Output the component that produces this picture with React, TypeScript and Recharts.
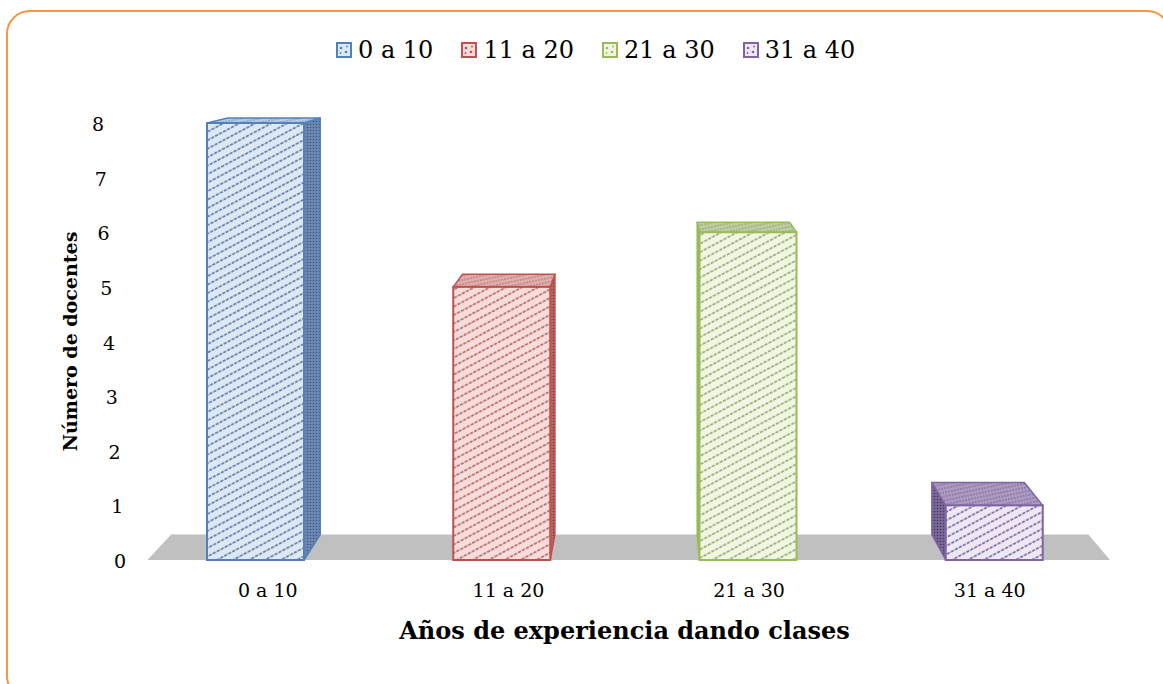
import React from "react";
import { BarChart, Bar, XAxis, YAxis, ReferenceArea } from "recharts";

// años de experiencia -> número de docentes
const rangos = ["0 a 10", "11 a 20", "21 a 30", "31 a 40"];
const docentes = [8, 5, 6, 1];
const yTicks = [0, 1, 2, 3, 4, 5, 6, 7, 8];

const data = rangos.map((rango, i) => ({ rango, docentes: docentes[i] }));

// Office-style palette: border, face, hatch line, side, side dots, top
const palette = [
  { border: "#4f81bd", face: "#dde8f5", line: "#6f87aa", side: "#6d89b2", dot: "#3a5680", top: "#b9cae0" },
  { border: "#c0504d", face: "#f8dcdb", line: "#b97775", side: "#b56d6a", dot: "#7a3331", top: "#dfb0ae" },
  { border: "#9bbb59", face: "#f1f6e2", line: "#9fb381", side: "#97ae68", dot: "#62773a", top: "#bfcda4" },
  { border: "#8064a2", face: "#eee8f6", line: "#8877a3", side: "#7a6899", dot: "#46355f", top: "#ac9cc3" },
];

const FONT = "'DejaVu Serif', 'Liberation Serif', serif";

// simple one-point perspective for the 3D look
const VP = { x: 650, y: 17 };
const DEPTH = 0.953;
const back = (px: number, py: number): [number, number] => [
  VP.x + (px - VP.x) * DEPTH,
  VP.y + (py - VP.y) * DEPTH,
];
const pts = (arr: [number, number][]) => arr.map((p) => p.join(",")).join(" ");

function Box3D(props: any) {
  const { x, y, width, height, payload } = props;
  const i = rangos.indexOf(payload.rango);
  const c = palette[i];
  const x2 = x + width;
  const y2 = y + height;
  const top: [number, number][] = [[x, y], [x2, y], back(x2, y), back(x, y)];
  let side: [number, number][] | null = null;
  if (x2 < VP.x) side = [[x2, y], [x2, y2], back(x2, y2), back(x2, y)];
  else if (x > VP.x) side = [[x, y], [x, y2], back(x, y2), back(x, y)];
  return (
    <g>
      {side && (
        <polygon points={pts(side)} fill={`url(#dots-${i})`} stroke={c.border} strokeWidth={1.5} strokeLinejoin="round" />
      )}
      <polygon points={pts(top)} fill={`url(#top-${i})`} stroke={c.border} strokeWidth={1.5} strokeLinejoin="round" />
      <rect x={x} y={y} width={width} height={height} fill={`url(#hatch-${i})`} stroke={c.border} strokeWidth={2} />
    </g>
  );
}

function Floor(props: any) {
  const { x, y, width, height } = props;
  const yb = y + height;
  const shape: [number, number][] = [[x, yb], [x + width, yb], back(x + width, yb), back(x, yb)];
  return <polygon points={pts(shape)} fill="#c0c0c0" />;
}

function YTick(props: any) {
  const { x, y, payload } = props;
  const lean = payload.value * 2.75;
  return (
    <text x={x - 12 - lean} y={y} dy={8} textAnchor="middle" fontSize={19} fontFamily={FONT} fill="#000">
      {payload.value}
    </text>
  );
}

function Swatch({ c }: { c: (typeof palette)[number] }) {
  return (
    <svg width={16} height={16} style={{ display: "block" }}>
      <rect x={1} y={1} width={14} height={14} fill={c.face} stroke={c.border} strokeWidth={2} />
      <circle cx={5} cy={6} r={1.3} fill={c.border} />
      <circle cx={10} cy={10} r={1.3} fill={c.border} />
      <circle cx={11} cy={4.5} r={0.9} fill={c.border} />
      <circle cx={4.5} cy={11} r={0.9} fill={c.border} />
    </svg>
  );
}

export default function App() {
  return (
    <div
      style={{
        position: "absolute",
        left: 0,
        top: 0,
        width: 1163,
        height: 684,
        overflow: "hidden",
        background: "#fff",
        fontFamily: FONT,
      }}
    >
      <div
        style={{
          position: "absolute",
          left: 6,
          top: 10,
          width: 1165,
          height: 690,
          border: "2.5px solid #f79646",
          borderRadius: 24,
          boxSizing: "border-box",
        }}
      />
      <div
        style={{
          position: "absolute",
          left: 336,
          top: 35,
          display: "flex",
          alignItems: "center",
          fontSize: 24,
          lineHeight: "30px",
          color: "#000",
        }}
      >
        {rangos.map((r, i) => (
          <div key={r} style={{ display: "flex", alignItems: "center", marginRight: 28 }}>
            <Swatch c={palette[i]} />
            <span style={{ marginLeft: 6 }}>{r}</span>
          </div>
        ))}
      </div>
      <div style={{ position: "absolute", left: 0, top: 0 }}>
        <BarChart
          width={1163}
          height={684}
          data={data}
          margin={{ top: 123, right: 46, bottom: 34, left: 8 }}
        >
          <defs>
            {palette.map((c, i) => (
              <React.Fragment key={i}>
                <pattern id={`hatch-${i}`} patternUnits="userSpaceOnUse" width={9} height={7.5} patternTransform="rotate(-28)">
                  <rect width={9} height={7.5} fill={c.face} />
                  <line x1={0} y1={3.7} x2={9} y2={3.7} stroke={c.line} strokeWidth={1.8} strokeDasharray="3.2 1.3" />
                </pattern>
                <pattern id={`top-${i}`} patternUnits="userSpaceOnUse" width={6} height={4} patternTransform="rotate(-12)">
                  <rect width={6} height={4} fill={c.top} />
                  <line x1={0} y1={2} x2={6} y2={2} stroke={c.dot} strokeOpacity={0.55} strokeWidth={1.1} strokeDasharray="2 1" />
                </pattern>
                <pattern id={`dots-${i}`} patternUnits="userSpaceOnUse" width={3} height={3}>
                  <rect width={3} height={3} fill={c.side} />
                  <circle cx={1.5} cy={1.5} r={0.8} fill={c.dot} />
                </pattern>
              </React.Fragment>
            ))}
          </defs>
          <XAxis xAxisId="bars" dataKey="rango" hide height={0} />
          <XAxis
            xAxisId="labels"
            dataKey="rango"
            padding={{ left: 15.5, right: 7 }}
            height={90}
            axisLine={false}
            tickLine={false}
            tickSize={0}
            tickMargin={24}
            tick={{ fontSize: 19, fontFamily: FONT, fill: "#000" }}
            label={{
              value: "Años de experiencia dando clases",
              position: "insideBottom",
              offset: 11,
              fontSize: 24,
              fontWeight: "bold",
              fontFamily: FONT,
              fill: "#000",
            }}
          />
          <YAxis
            type="number"
            domain={[0, 8]}
            ticks={yTicks}
            width={124}
            axisLine={false}
            tickLine={false}
            tickSize={0}
            tickMargin={0}
            tick={<YTick />}
            label={{
              value: "Número de docentes",
              angle: -90,
              position: "center",
              fontSize: 19,
              fontWeight: "bold",
              fontFamily: FONT,
              fill: "#000",
            }}
          />
          <ReferenceArea
            xAxisId="labels"
            x1={rangos[0]}
            x2={rangos[rangos.length - 1]}
            y1={0}
            y2={8}
            shape={(p: any) => <Floor {...p} />}
          />
          <Bar
            xAxisId="bars"
            dataKey="docentes"
            barSize={97}
            shape={(p: any) => <Box3D {...p} />}
            isAnimationActive={false}
          />
        </BarChart>
      </div>
    </div>
  );
}
